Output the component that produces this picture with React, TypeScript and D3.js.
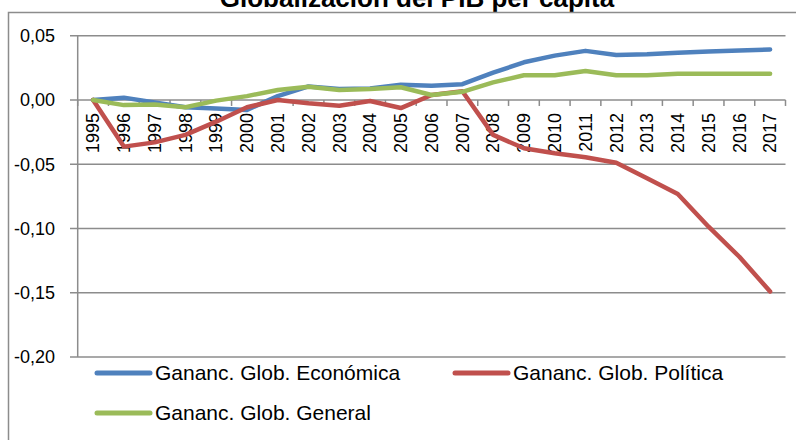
import React from "react";
import * as d3 from "d3";

const years = ["1995","1996","1997","1998","1999","2000","2001","2002","2003","2004","2005","2006","2007","2008","2009","2010","2011","2012","2013","2014","2015","2016","2017"];
const economica = [0, 0.0018, -0.002, -0.0057, -0.0067, -0.0078, 0.003, 0.0105, 0.0085, 0.009, 0.0118, 0.011, 0.0123, 0.0212, 0.0293, 0.0345, 0.0382, 0.035, 0.0355, 0.0368, 0.0377, 0.0385, 0.0393];
const politica = [0, -0.0363, -0.033, -0.0272, -0.0169, -0.0057, 0, -0.0026, -0.0045, -0.0008, -0.0063, 0.0039, 0.0068, -0.0272, -0.0376, -0.0415, -0.0446, -0.0488, -0.061, -0.0732, -0.0986, -0.122, -0.149];
const general = [0, -0.004, -0.0036, -0.0057, -0.0005, 0.003, 0.0078, 0.0102, 0.0078, 0.0085, 0.0099, 0.0039, 0.0063, 0.0137, 0.0192, 0.0192, 0.0226, 0.0192, 0.0192, 0.0203, 0.0203, 0.0203, 0.0203];
const yTicks = [0.05, 0, -0.05, -0.1, -0.15, -0.2];
const seriesNames = ["Gananc. Glob. Económica", "Gananc. Glob. Política", "Gananc. Glob. General"];
const colors = ["#4F81BD", "#C0504D", "#9BBB59"];

const W = 796, H = 440;
const plotL = 77.7, plotR = 785.5, plotT = 35.7, plotB = 357;

export default function App() {
  const x = d3.scaleBand<string>().domain(years).range([plotL, plotR]).paddingInner(0).paddingOuter(0);
  const y = d3.scaleLinear().domain([-0.2, 0.05]).range([plotB, plotT]);
  const cx = (yr: string) => (x(yr) as number) + x.bandwidth() / 2;
  const line = d3.line<number>().x((_, i) => cx(years[i])).y((v) => y(v));
  const fmt = (v: number) => d3.format(".2f")(v).replace(".", ",").replace("−", "-");
  const series = [economica, politica, general];
  const gridColor = "#8c8c8c";
  const font = "'Liberation Sans', Arial, sans-serif";
  const bounds = years.map((yr) => x(yr) as number).concat([plotR]);

  return (
    <svg width={W} height={H} style={{ position: "absolute", left: 0, top: 0, background: "#fff" }} fontFamily={font}>
      <rect x={0} y={0} width={W} height={H} fill="#fff" />
      <text x={417} y={7} textAnchor="middle" fontSize={26} fontWeight="bold" fill="#000">Globalización del PIB per cápita</text>
      <rect x={8.5} y={12.5} width={W + 20} height={H + 20} fill="none" stroke={gridColor} strokeWidth={1.5} />
      {yTicks.map((t) => (
        <g key={t}>
          <line x1={70} x2={plotR} y1={y(t)} y2={y(t)} stroke={gridColor} strokeWidth={1.5} />
          <text x={55} y={y(t)} dy="0.35em" textAnchor="end" fontSize={18} fill="#000">{fmt(t)}</text>
        </g>
      ))}
      <line x1={plotL} x2={plotL} y1={plotT} y2={plotB} stroke={gridColor} strokeWidth={1.5} />
      {bounds.map((b, i) => (
        <line key={i} x1={b} x2={b} y1={y(0)} y2={y(0) + 6} stroke={gridColor} strokeWidth={1.5} />
      ))}
      {years.map((yr) => (
        <text key={yr} transform={`translate(${cx(yr)},${y(0) + 13}) rotate(-90)`} dy="0.35em" textAnchor="end" fontSize={18} fill="#000">{yr}</text>
      ))}
      {series.map((s, i) => (
        <path key={i} d={line(s) as string} fill="none" stroke={colors[i]} strokeWidth={4.5} strokeLinejoin="round" strokeLinecap="round" />
      ))}
      {[
        { sx: 97, ty: 373 },
        { sx: 455, ty: 373 },
        { sx: 97, ty: 413 },
      ].map((p, i) => (
        <g key={i}>
          <line x1={p.sx} x2={p.sx + 53} y1={p.ty} y2={p.ty} stroke={colors[i]} strokeWidth={5} strokeLinecap="round" />
          <text x={p.sx + 58} y={p.ty} dy="0.35em" fontSize={21} fill="#000">{seriesNames[i]}</text>
        </g>
      ))}
    </svg>
  );
}
